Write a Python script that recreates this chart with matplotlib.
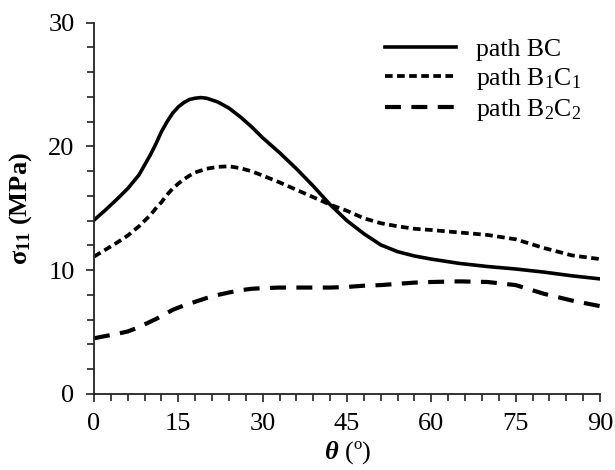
import matplotlib
matplotlib.use("Agg")
import matplotlib.pyplot as plt
from matplotlib.ticker import MultipleLocator

# values
theta = [0, 2, 4, 6, 8, 10, 11, 12, 13, 14, 15, 16, 17, 18, 19, 20, 22, 24, 26, 28,
         30, 33, 36, 39, 42, 45, 48, 51, 54, 57, 60, 65, 70, 75, 80, 85, 90]
path_bc = [14.05, 14.85, 15.7, 16.6, 17.7, 19.3, 20.2, 21.2, 22.0, 22.7, 23.2, 23.55,
           23.8, 23.9, 23.95, 23.9, 23.6, 23.1, 22.4, 21.6,
           20.7, 19.5, 18.2, 16.8, 15.3, 14.0, 12.95, 12.05, 11.5, 11.15, 10.9,
           10.55, 10.3, 10.1, 9.85, 9.55, 9.3]
path_b1c1 = [11.1, 11.65, 12.2, 12.8, 13.55, 14.45, 15.0, 15.5, 16.1, 16.6, 17.0, 17.35,
             17.65, 17.9, 18.05, 18.2, 18.35, 18.4, 18.25, 18.0,
             17.65, 17.1, 16.5, 15.9, 15.3, 14.8, 14.2, 13.8, 13.55, 13.35, 13.25,
             13.05, 12.85, 12.5, 11.8, 11.2, 10.9]
path_b2c2 = [4.5, 4.68, 4.85, 5.05, 5.4, 5.84, 6.05, 6.3, 6.55, 6.8, 6.98, 7.15,
             7.3, 7.45, 7.6, 7.75, 8.0, 8.2, 8.38, 8.5,
             8.55, 8.6, 8.6, 8.6, 8.6, 8.65, 8.75, 8.8, 8.9, 9.0, 9.05,
             9.1, 9.05, 8.8, 8.1, 7.55, 7.1]
labels = ["path BC", r"path B$_1$C$_1$", r"path B$_2$C$_2$"]

plt.rcParams['font.family'] = 'Liberation Serif'
plt.rcParams['mathtext.fontset'] = 'custom'
plt.rcParams['mathtext.rm'] = 'Liberation Serif'
plt.rcParams['mathtext.it'] = 'Liberation Serif:italic'
plt.rcParams['mathtext.bf'] = 'Liberation Serif:bold'
plt.rcParams['mathtext.bfit'] = 'Liberation Serif:italic:bold'
plt.rcParams['lines.scale_dashes'] = False

fig = plt.figure(figsize=(6.15, 4.70), dpi=100)
ax = fig.add_axes([94/615, 1 - 394/470, (600-94)/615, (394-22.7)/470])

ax.plot(theta, path_bc, color='black', lw=2.6, ls='-', label=labels[0])
ax.plot(theta, path_b1c1, color='black', lw=2.7, dashes=(5.5, 3.2), label=labels[1])
ax.plot(theta, path_b2c2, color='black', lw=3.0, dashes=(11.5, 7.5), label=labels[2])

ax.set_xlim(0, 90)
ax.set_ylim(0, 30)
ax.xaxis.set_major_locator(MultipleLocator(15))
ax.xaxis.set_minor_locator(MultipleLocator(3))
ax.yaxis.set_major_locator(MultipleLocator(10))
ax.yaxis.set_minor_locator(MultipleLocator(2))
ax.spines['top'].set_visible(False)
ax.spines['right'].set_visible(False)
for s in ['left', 'bottom']:
    ax.spines[s].set_linewidth(1.3)
    ax.spines[s].set_color('#222222')
ax.tick_params(which='both', direction='out', width=1.2, color='#222222')
ax.tick_params(which='major', length=6)
ax.tick_params(which='minor', length=5)
ax.tick_params(axis='x', which='major', pad=8, labelsize=19)
ax.tick_params(axis='y', which='major', pad=8, labelsize=19)

ax.set_xlabel(r"$\mathbfit{\theta}$ (º)", fontsize=19, labelpad=3)
ax.set_ylabel(r"$\mathbf{\sigma_{11}}$ (MPa)", fontsize=19, fontweight='bold', labelpad=10)

ax.legend(loc='upper left', bbox_to_anchor=(385/615, 1 - 38/470),
          bbox_transform=fig.transFigure, frameon=False, fontsize=18.5,
          handlelength=2.75, handletextpad=0.8, borderpad=0, borderaxespad=0,
          labelspacing=0.2)

fig.savefig("out.png", dpi=100)
